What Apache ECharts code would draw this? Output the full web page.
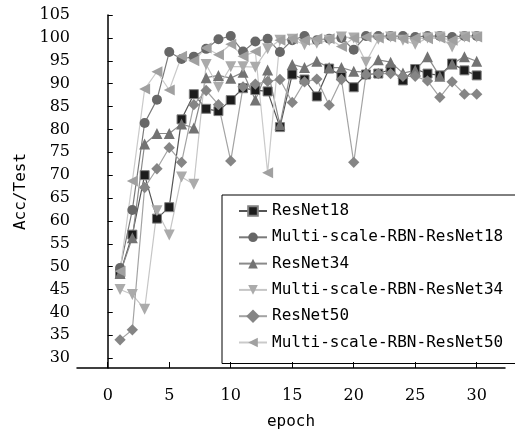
<!DOCTYPE html>
<html>
<head>
<meta charset="utf-8">
<script src="https://cdn.jsdelivr.net/npm/echarts@6/dist/echarts.min.js"></script>
<style>
  html, body { margin: 0; padding: 0; background: #fff; }
  #chart { width: 515px; height: 435px; }
</style>
</head>
<body>
<div id="chart"></div>
<script>
// data
const epochs = [1,2,3,4,5,6,7,8,9,10,11,12,13,14,15,16,17,18,19,20,21,22,23,24,25,26,27,28,29,30];
const seriesNames = ["ResNet18", "Multi-scale-RBN-ResNet18", "ResNet34", "Multi-scale-RBN-ResNet34", "ResNet50", "Multi-scale-RBN-ResNet50"];
const resnet18 = [48.5,57,70,60.5,63,82.2,87.7,84.5,84,86.4,89,88.6,88.3,80.5,92,90.9,87.2,93.3,91.7,89.2,92,92.2,93.1,90.7,93.2,92.2,91.8,94.4,92.9,91.8];
const msResnet18 = [49.7,62.4,81.4,86.5,96.9,95.4,95.9,97.6,99.7,100.4,97,99.2,99.8,96.9,99.5,100.4,99.5,99.8,100,97.4,100.4,100.4,100.4,100.4,100.2,100.4,100.4,100.2,100.4,100.4];
const resnet34 = [48.5,56.3,76.8,79.1,79.1,81.2,80.3,91.3,91.8,91.2,92.5,86.4,93,81,94.2,93.5,94.9,93.5,93.5,92.7,92.5,95.2,94.7,92.3,92.9,95.9,91.6,94.3,95.9,94.9];
const msResnet34 = [45,43.9,40.7,62.2,56.9,69.6,68,94.2,89.2,93.7,93.7,93.6,97.6,99.5,99.7,98.5,98.8,99.5,100.2,100,94.7,99.7,100.2,99.5,98.6,100,100.2,98,100.2,100.2];
const resnet50 = [34,36.2,67.3,71.4,76,72.8,85.4,88.5,85.4,73.1,89.3,89.9,90.5,90.9,85.9,90.4,91,85.3,90.9,72.8,92,92.2,92.2,91.6,91.6,90.6,87,90.4,87.7,87.7];
const msResnet50 = [49,68.7,88.8,92.6,88.6,96,95,97.8,96.3,98.6,96,97,70.5,99.5,99.8,99.5,99.8,99.8,98.1,99.9,100.2,100,100.2,99.8,100,99.8,100,99.5,100.2,100.2];
const xTicks = [0,5,10,15,20,25,30];
const yTicks = [30,35,40,45,50,55,60,65,70,75,80,85,90,95,100,105];

const chart = echarts.init(document.getElementById("chart"));

const pairs = (vals) => epochs.map((e, i) => [e, vals[i]]);
const tickFont = { fontFamily: "DejaVu Serif", fontSize: 16, color: "#000" };
const monoFont = "DejaVu Sans Mono";

// one style per curve: symbol, its rotation, fill, line colour
const styles = [
  { symbol: "rect", rot: 0, size: 9, fill: "#1c1c1c", line: "#555", border: "#808080" },
  { symbol: "circle", rot: 0, size: 10, fill: "#676767", line: "#7a7a7a" },
  { symbol: "triangle", rot: 0, size: 11, fill: "#737373", line: "#8a8a8a" },
  { symbol: "triangle", rot: 180, size: 11, fill: "#ababab", line: "#c6c6c6" },
  { symbol: "rect", rot: 45, size: 8, fill: "#858585", line: "#a3a3a3" },
  { symbol: "triangle", rot: 90, size: 11, fill: "#a0a0a0", line: "#cacaca" }
];
const allData = [resnet18, msResnet18, resnet34, msResnet34, resnet50, msResnet50];

const option = {
  animation: false,
  grid: { left: 77, right: 10, top: 15, bottom: 62 },
  legend: {
    orient: "vertical",
    left: 222,
    top: 195,
    data: seriesNames,
    itemWidth: 28,
    itemHeight: 12,
    itemGap: 10.3,
    padding: [8, 60, 13, 16],
    borderColor: "#000",
    borderWidth: 1,
    textStyle: { fontFamily: monoFont, fontSize: 16, color: "#000" }
  },
  xAxis: {
    type: "value",
    min: -2.5,
    max: 32.3,
    name: "epoch",
    nameLocation: "middle",
    nameGap: 46,
    nameTextStyle: { fontFamily: monoFont, fontSize: 16, color: "#000" },
    axisLine: { lineStyle: { color: "#000", width: 1.5 } },
    axisTick: { inside: true, length: 6, customValues: xTicks, lineStyle: { color: "#000" } },
    axisLabel: { customValues: xTicks, margin: 20, ...tickFont },
    splitLine: { show: false }
  },
  yAxis: {
    type: "value",
    min: 27.85,
    max: 105,
    name: "Acc/Test",
    nameLocation: "middle",
    nameGap: 48,
    nameTextStyle: { fontFamily: monoFont, fontSize: 16, color: "#000" },
    axisLine: { show: true, lineStyle: { color: "#000", width: 1.5 } },
    axisTick: { show: true, inside: true, length: 5, customValues: yTicks, lineStyle: { color: "#000" } },
    axisLabel: { customValues: yTicks, margin: 7, ...tickFont },
    splitLine: { show: false }
  },
  series: seriesNames.map((name, k) => ({
    name,
    type: "line",
    data: pairs(allData[k]),
    symbol: styles[k].symbol,
    symbolRotate: styles[k].rot,
    symbolSize: styles[k].size,
    showAllSymbol: true,
    lineStyle: { color: styles[k].line, width: 1.2 },
    itemStyle: {
      color: styles[k].fill,
      borderColor: styles[k].border || styles[k].fill,
      borderWidth: styles[k].border ? 1 : 0
    }
  }))
};

chart.setOption(option);
</script>
</body>
</html>
